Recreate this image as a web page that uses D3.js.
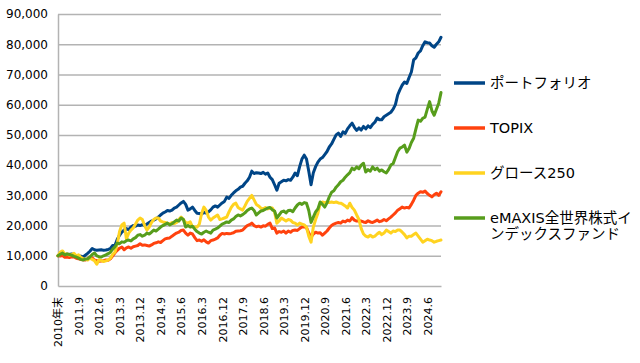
<!DOCTYPE html>
<head>
  <meta charset="utf-8">
  <script src="https://d3js.org/d3.v7.min.js"></script>
  <style>
    body { margin:0; background:#fff; }
    text { font-family: "DejaVu Sans", "Noto Sans CJK JP", sans-serif; fill:#000; }
  </style>
</head>
<body>
<svg width="640" height="363" id="chart"></svg>
<script>
// monthly values (thousand yen), 2010.12 .. 2024.12
var portfolio = [10.0,
  10.3, 10.6, 10.2, 10.5, 10.4, 10.6, 10.3, 9.8, 9.6, 9.9, 9.6, 10.2,
  10.8, 11.5, 12.4, 12.0, 11.8, 11.9, 12.0, 11.8, 11.9, 12.1, 12.4, 13.4,
  13.5, 15.5, 16.8, 17.8, 18.5, 19.0, 18.6, 19.5, 20.0, 19.8, 20.2, 20.0,
  20.3, 20.0, 20.5, 21.0, 21.5, 21.8, 22.2, 22.8, 23.5, 24.1, 24.5, 25.0,
  24.8, 25.1, 25.8, 26.1, 26.8, 27.5, 28.0, 27.0, 25.1, 25.5, 26.1, 25.0,
  24.1, 24.0, 23.8, 24.3, 24.1, 24.5, 25.2, 26.1, 26.5, 26.1, 26.8, 27.5,
  28.0, 29.4, 29.0, 30.0, 30.8, 31.5, 32.0, 32.7, 33.0, 34.0, 34.8, 36.0,
  38.0, 37.2, 37.5, 37.4, 37.2, 37.6, 37.0, 37.4, 36.0, 35.2, 33.5, 31.7,
  34.0, 34.5, 35.0, 34.8, 35.2, 35.0, 36.0, 37.4, 36.5, 39.5, 42.0, 43.3,
  42.0, 38.0, 33.5, 37.5, 39.5, 41.0, 42.0, 42.5, 43.5, 44.5, 46.0, 47.0,
  48.5, 50.0, 50.6, 49.5, 51.0, 50.5, 52.0, 53.0, 53.9, 52.5, 51.5, 52.3,
  51.6, 52.8, 52.0, 53.0, 52.4, 53.5, 54.2, 55.6, 55.0, 55.0, 56.0, 56.5,
  57.0, 57.5, 58.5, 60.0, 63.2, 65.0, 66.5, 67.5, 67.0, 69.0, 70.8, 74.8,
  75.5, 77.1, 77.8, 79.5, 80.8, 80.5, 80.4, 79.5, 79.0, 80.0, 80.8, 82.3];

var topix = [10.0,
  9.9, 10.1, 9.5, 9.6, 9.4, 9.7, 9.6, 9.2, 9.0, 8.8, 8.7, 8.6,
  9.0, 9.5, 9.3, 8.6, 8.4, 8.2, 8.3, 8.4, 8.6, 8.5, 9.0, 10.0,
  11.0, 11.8, 12.5, 12.9, 12.0, 12.6, 12.9, 12.5, 13.0, 13.2, 13.4, 14.0,
  13.5, 13.6, 13.4, 13.2, 13.6, 14.1, 14.3, 14.6, 14.4, 15.0, 15.6, 15.8,
  15.9, 16.5, 17.0, 17.5, 17.8, 18.4, 18.5, 17.5, 16.8, 17.5, 17.2, 16.0,
  15.0, 15.2, 14.8, 15.3, 14.6, 14.2, 15.0, 15.2, 15.5, 15.9, 16.8, 17.4,
  17.2, 17.4, 17.3, 17.4, 17.6, 18.1, 18.2, 18.3, 18.5, 19.3, 20.0, 20.3,
  20.8, 20.0, 19.6, 19.8, 19.5, 19.9, 19.8, 20.4, 20.8, 19.0, 19.2, 17.5,
  18.0, 17.8, 18.2, 17.5, 18.2, 17.8, 18.4, 18.5, 18.4, 19.0, 19.5, 19.6,
  19.3, 17.5, 16.2, 17.2, 17.8, 17.5, 17.6, 16.8, 17.5, 18.2, 19.2, 20.0,
  20.5, 20.8, 21.0, 20.8, 21.5, 21.2, 21.8, 21.5, 22.6, 21.8, 21.5, 21.6,
  21.5, 21.2, 21.0, 21.6, 21.2, 21.0, 21.4, 21.8, 21.3, 21.5, 22.0, 21.6,
  22.2, 22.8, 23.5, 24.2, 25.1, 25.6, 26.1, 25.8, 26.0, 25.8, 27.0, 28.4,
  30.0, 30.7, 31.2, 31.0, 31.4, 30.6, 30.0, 29.5, 30.2, 30.7, 30.0, 31.2];

var growth250 = [10.0,
  11.2, 11.6, 10.5, 10.6, 10.2, 10.4, 10.8, 10.0, 10.3, 9.5, 9.0, 8.8,
  8.6, 9.2, 8.8, 8.4, 7.2, 8.7, 8.4, 8.1, 8.3, 8.6, 9.2, 10.5,
  11.2, 14.0, 18.0, 20.2, 20.8, 15.6, 17.5, 18.5, 19.2, 20.5, 21.8, 22.5,
  22.0, 20.0, 18.5, 19.5, 21.0, 22.0, 22.5, 22.5, 21.5, 21.2, 21.0, 20.8,
  20.5, 21.0, 20.6, 21.0, 22.0, 22.8, 22.0, 21.0, 20.8, 21.2, 19.5, 19.5,
  19.5, 20.5, 24.0, 26.1, 25.0, 22.8, 21.8, 22.5, 23.0, 23.5, 22.0, 22.2,
  22.5, 22.8, 24.5, 26.0, 27.0, 27.4, 26.0, 25.5, 25.1, 26.5, 28.0, 29.0,
  30.0, 28.5, 27.0, 26.5, 25.8, 25.5, 26.0, 25.5, 25.8, 25.8, 24.5, 20.8,
  21.5, 22.5, 22.0, 21.5, 22.0, 21.8, 21.0, 20.8, 20.2, 20.8, 20.5, 20.2,
  19.5, 16.5, 14.5, 19.5, 22.0, 24.1, 27.4, 27.8, 27.6, 27.8, 27.6, 27.8,
  27.6, 27.8, 27.5, 27.4, 27.0, 26.5, 25.8, 27.4, 26.0, 25.1, 23.5, 22.0,
  19.0, 17.2, 16.5, 16.2, 16.8, 16.2, 16.5, 17.2, 17.8, 17.0, 17.5, 18.5,
  18.0, 17.5, 18.2, 18.0, 18.5, 18.5, 17.8, 17.0, 15.9, 16.5, 16.5, 17.0,
  17.5, 16.5, 15.5, 14.5, 15.0, 15.5, 15.2, 15.0, 14.5, 14.8, 15.0, 15.2];

var emaxis = [10.0,
  10.5, 10.9, 10.3, 10.6, 10.4, 10.2, 9.8, 9.6, 9.2, 8.8, 8.6, 8.9,
  9.0, 9.6, 10.4, 10.9, 10.0, 9.7, 9.6, 10.0, 10.3, 10.7, 11.2, 12.2,
  13.0, 14.2, 14.0, 14.6, 14.5, 15.0, 15.2, 14.9, 15.6, 16.0, 16.8, 17.0,
  16.5, 16.8, 17.5, 17.2, 17.8, 18.5, 18.2, 18.8, 19.5, 20.0, 20.4, 20.8,
  20.2, 20.6, 21.2, 21.8, 21.5, 22.5, 22.0, 19.5, 20.0, 19.5, 19.8, 18.8,
  18.0, 17.5, 17.2, 17.8, 18.2, 17.8, 17.5, 18.5, 18.8, 19.2, 19.8, 20.5,
  20.8, 21.2, 21.0, 21.8, 22.2, 23.0, 23.5, 23.2, 23.6, 24.2, 25.0, 25.5,
  25.8, 25.0, 23.5, 24.2, 24.8, 25.0, 25.4, 25.8, 26.0, 25.2, 24.8, 22.5,
  23.5, 24.5, 24.8, 24.2, 25.0, 25.1, 24.6, 25.8, 26.8, 27.4, 27.0, 27.6,
  27.4, 25.0, 21.0, 22.8, 24.5, 25.5, 27.8, 27.0, 26.1, 27.5, 29.5, 31.0,
  31.5, 32.7, 33.5, 34.5, 35.0, 36.0, 36.8, 37.5, 39.0, 38.5, 39.4, 38.8,
  40.0, 40.6, 37.7, 38.5, 38.0, 39.4, 38.5, 39.0, 38.0, 38.4, 37.8, 37.4,
  38.5, 40.0, 40.5, 42.5, 44.5, 45.6, 46.0, 46.6, 44.3, 45.5, 47.5, 48.9,
  52.0, 54.9, 54.5, 55.5, 55.9, 58.5, 61.0, 58.0, 56.5, 58.5, 60.5, 64.0];

// x tick labels, one every 9 months
var tickLabels = ["2010年末", "2011.9", "2012.6", "2013.3", "2013.12", "2014.9", "2015.6",
  "2016.3", "2016.12", "2017.9", "2018.6", "2019.3", "2019.12", "2020.9", "2021.6",
  "2022.3", "2022.12", "2023.9", "2024.6"];

var seriesNames = ["ポートフォリオ", "TOPIX", "グロース250", "eMAXIS全世界株式インデックスファンド"];
var seriesColors = ["#004586", "#ff420e", "#ffd320", "#579d1c"];
var seriesData = [portfolio, topix, growth250, emaxis];

var svg = d3.select("#chart");
var plotL = 58, plotR = 441, plotT = 14, plotB = 286;

var x = d3.scaleLinear().domain([0, portfolio.length - 1]).range([plotL, plotR]);
var y = d3.scaleLinear().domain([0, 90]).range([plotB, plotT]);

// gridlines
svg.append("g")
  .attr("transform", "translate(" + plotL + ",0)")
  .call(d3.axisRight(y).tickValues(d3.range(10, 91, 10)).tickSize(plotR - plotL).tickFormat(""))
  .call(function(g) {
    g.select(".domain").remove();
    g.selectAll("line").attr("stroke", "#b3b3b3").attr("stroke-width", 1.5);
  });

// y axis
svg.append("g")
  .attr("transform", "translate(" + plotL + ",0)")
  .call(d3.axisLeft(y).tickValues(d3.range(0, 91, 10)).tickSize(0).tickPadding(10)
    .tickFormat(function(d) { return d3.format(",")(d * 1000); }))
  .call(function(g) {
    g.select(".domain").attr("stroke", "#b3b3b3").attr("stroke-width", 1.5);
    g.selectAll("text").style("font-size", "12px").attr("fill", "#000");
  });

// x axis
var xa = svg.append("g")
  .attr("transform", "translate(0," + plotB + ")")
  .call(d3.axisBottom(x).tickValues(d3.range(0, portfolio.length, 9)).tickSize(0)
    .tickFormat(function(d) { return tickLabels[d / 9]; }));
xa.select(".domain").attr("stroke", "#b3b3b3").attr("stroke-width", 1.5);
xa.selectAll("text")
  .style("font-size", "11px")
  .attr("fill", "#000")
  .attr("text-anchor", "end")
  .attr("transform", "rotate(-90)")
  .attr("x", -11)
  .attr("y", 0)
  .attr("dy", "0.35em");

// lines
var line = d3.line()
  .x(function(d, i) { return x(i); })
  .y(function(d) { return y(d); });

seriesData.forEach(function(s, k) {
  svg.append("path")
    .datum(s)
    .attr("fill", "none")
    .attr("stroke", seriesColors[k])
    .attr("stroke-width", 3)
    .attr("stroke-linejoin", "round")
    .attr("stroke-linecap", "round")
    .attr("d", line);
});

// legend
var legendY = [83, 128, 173, 218];
var lg = svg.append("g");
seriesNames.forEach(function(name, k) {
  lg.append("line")
    .attr("x1", 454).attr("x2", 485)
    .attr("y1", legendY[k]).attr("y2", legendY[k])
    .attr("stroke", seriesColors[k]).attr("stroke-width", 3.5);
  var t = lg.append("text")
    .attr("x", 490).attr("y", legendY[k])
    .attr("dy", "0.36em")
    .style("font-size", "14.5px");
  if (k === 3) {
    t.append("tspan").attr("x", 490).text("eMAXIS全世界株式イ");
    t.append("tspan").attr("x", 490).attr("dy", "1.1em").text("ンデックスファンド");
  } else {
    t.text(name);
  }
});
</script>
</body>
